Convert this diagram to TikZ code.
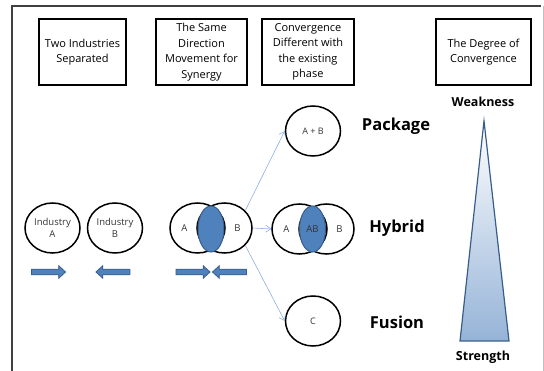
\documentclass[tikz,border=0pt]{standalone}
\usepackage{fontspec}
\setmainfont{Open Sans}
\usetikzlibrary{arrows.meta, positioning, shapes.geometric, shapes.arrows}

\definecolor{khoiblue}{RGB}{79,129,189}
\definecolor{vienblue}{RGB}{56,93,138}
\definecolor{linkblue}{RGB}{141,176,220}

\begin{document}
\begin{tikzpicture}[x=1pt, y=-1pt,
    box/.style={draw, line width=1.4pt, align=center, minimum height=66pt, inner sep=1pt, font=\fontsize{11}{15.5}\selectfont},
    circ/.style={draw, ellipse, line width=1.5pt, minimum width=55pt, minimum height=50pt, inner sep=0pt, align=center, text=black!80, font=\fontsize{9.5}{11.5}\selectfont},
    overlap/.style={draw=vienblue, fill=khoiblue, ellipse, line width=1pt, minimum width=26pt, minimum height=46pt, inner sep=0pt, text=black!80, font=\fontsize{9.5}{11.5}\selectfont},
    blockarrow/.style={single arrow, draw=vienblue, fill=khoiblue, line width=0.8pt, minimum height=34pt, single arrow head extend=3.5pt, single arrow tip angle=85, inner sep=2.4pt, outer sep=0pt},
    link/.style={draw=linkblue, line width=0.6pt, -{Straight Barb[length=5pt, width=7pt]}},
    phase/.style={font=\bfseries\fontsize{16.5}{20}\selectfont},
    degree/.style={font=\bfseries\fontsize{12.5}{15}\selectfont}]
    \useasboundingbox (0,0) rectangle (544,371);

    % Khung ngoài
    \draw[black!75, line width=1.5pt] (12,371) -- (12,6) -- (541,6);
    \draw[black!25, line width=0.8pt] (543,6) -- (543,371);

    % Các ô tiêu đề
    \node[box, minimum width=87pt] (sep) at (82.5,52) {Two Industries\\Separated};
    \node[box, minimum width=91pt] (same) at (201.5,52) {The Same\\Direction\\Movement for\\Synergy};
    \node[box, minimum width=92pt] (conv) at (308,52) {Convergence\\Different with\\the existing\\phase};
    \node[box, minimum width=95pt] (degree) at (483.5,52) {The Degree of\\Convergence};

    % Hai ngành tách biệt
    \node[circ] (indA) at (52.5,228) {Industry\\A};
    \node[circ] (indB) at (115,228) {Industry\\B};
    \node[blockarrow] (arrA) at (47,272) {};
    \node[blockarrow, shape border rotate=180] (arrB) at (114.5,272) {};

    % Cùng hướng vì hiệp lực
    \node[circ] (vennA) at (197.5,228) {A\hspace*{26pt}};
    \node[circ] (vennB) at (224.5,228) {\hspace*{26pt}B};
    \node[overlap] (vennAB) at (211,229) {};
    \node[blockarrow] (arrC) at (191.5,272) {};
    \node[blockarrow, shape border rotate=180] (arrD) at (231,272) {};

    % Ba dạng hội tụ
    \node[circ, font=\fontsize{9}{11}\selectfont] (pack) at (313,131) {A + B};
    \node[circ] (hybA) at (299.5,229) {A\hspace*{26pt}};
    \node[circ] (hybB) at (326.5,229) {\hspace*{26pt}B};
    \node[overlap] (hybAB) at (312.5,229) {AB};
    \node[circ, font=\fontsize{9}{11}\selectfont] (fus) at (313,321) {C};

    \draw[link] (vennB.40) -- (pack.west);
    \draw[link] (vennB.east) -- (hybA.west);
    \draw[link] (vennB.-40) -- (fus.west);

    \node[phase] (lblpack) at (396,126) {Package};
    \node[phase] (lblhyb) at (397,228) {Hybrid};
    \node[phase] (lblfus) at (397,322) {Fusion};

    % Tam giác mức độ hội tụ
    \coordinate (apex) at (484,121);
    \coordinate (baseL) at (460,341);
    \coordinate (baseR) at (509,341);
    \shade[top color=white, bottom color=khoiblue!60, draw=vienblue, line width=1.2pt, line join=miter]
        (apex) -- (baseR) -- (baseL) -- cycle;
    \node[degree] (weak) at (483,102) {Weakness};
    \node[degree] (strong) at (483,357) {Strength};

\end{tikzpicture}
\end{document}
